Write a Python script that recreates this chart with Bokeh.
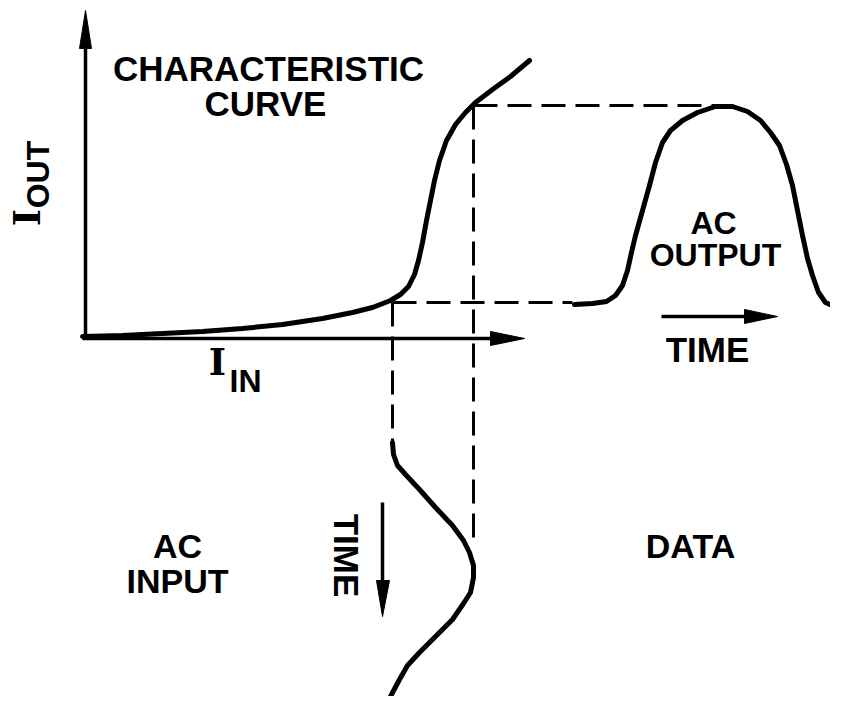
import math
from bokeh.plotting import figure
from bokeh.models import Range1d
from bokeh.core.properties import value
from bokeh.embed import file_html
from bokeh.resources import INLINE

# ---- diagram data (image pixel coordinates, y grows downward) ----
char_curve_x = [80, 120, 160, 200, 240, 280, 320, 350, 370, 388, 398, 406, 412, 416, 420, 424, 428,
                432, 437, 444, 453, 463, 473, 490, 508, 527]
char_curve_y = [334, 333, 331, 329, 326, 322, 316, 310, 305, 298, 292, 284, 272, 258, 240, 218, 198,
                178, 158, 138, 122, 110, 100, 87, 74, 58]

out_curve_x = [572, 590, 604, 613, 620, 625, 629, 633, 640, 647, 653, 660, 668, 680, 695, 713, 730,
               745, 758, 768, 777, 784, 790, 795, 800, 805, 810, 816, 823, 834, 846]
out_curve_y = [302, 301, 299, 293, 283, 268, 250, 233, 208, 183, 160, 140, 128, 118, 110, 104, 104,
               109, 118, 130, 143, 162, 183, 208, 233, 256, 273, 290, 300, 305, 308]

in_curve_x = [390, 391, 395, 403, 417, 433, 450, 461, 467, 471, 471, 468, 461, 450, 433, 417, 405,
              397, 389, 382]
in_curve_y = [440, 452, 463, 472, 487, 505, 523, 538, 550, 563, 575, 590, 601, 617, 634, 650, 663,
              677, 692, 707]

# dashed projection lines: (x0, y0, x1, y1)
dash_x0 = [390, 471, 390, 471]
dash_y0 = [300, 103, 300, 103]
dash_x1 = [570, 713, 390, 471]
dash_y1 = [300, 103, 440, 545]

# arrow shafts
shaft_x0 = [83, 80, 659, 380]
shaft_y0 = [336, 336, 314, 500]
shaft_x1 = [83, 495, 745, 380]
shaft_y1 = [40, 336, 314, 590]

# arrow heads (triangles)
head_xs = [[83, 77, 89], [522, 488, 488], [775, 742, 742], [380, 374, 387]]
head_ys = [[8, 46, 46], [336, 329, 343], [314, 307, 321], [614, 578, 578]]

# labels (centre positions)
lbl_text = ["CHARACTERISTIC", "CURVE", "AC", "OUTPUT", "TIME", "AC", "INPUT", "DATA"]
lbl_x = [266, 263, 711, 713, 705, 175, 175, 688]
lbl_y = [66, 101, 220, 252, 347, 543, 578, 543]
lbl_size = ["35px", "35px", "32px", "32px", "35px", "34px", "34px", "34px"]

W, H = 830, 696
OFF = -2
p = figure(width=W, height=H, output_backend="svg", toolbar_location=None,
           x_range=Range1d(OFF, OFF + W), y_range=Range1d(OFF + H, OFF),
           min_border=0, outline_line_color=None)
p.axis.visible = False
p.grid.visible = False
p.background_fill_color = "white"
p.border_fill_color = "white"

# dashed lines
p.segment(dash_x0, dash_y0, dash_x1, dash_y1, line_color="black", line_width=3,
          line_dash="24 10")

# axes and time arrows
p.segment(shaft_x0, shaft_y0, shaft_x1, shaft_y1, line_color="black", line_width=3.5)
p.patches(head_xs, head_ys, fill_color="black", line_color="black", line_width=1)

# curves
for xs, ys in [(char_curve_x, char_curve_y), (out_curve_x, out_curve_y), (in_curve_x, in_curve_y)]:
    p.line(xs, ys, line_color="black", line_width=5, line_join="round", line_cap="round")

font = value("Liberation Sans")
for t, x, y, s in zip(lbl_text, lbl_x, lbl_y, lbl_size):
    p.text([x], [y], text=[t], text_font=font, text_font_size=s, text_font_style="bold",
           text_align="center", text_baseline="middle", text_color="black")

# rotated TIME next to AC input
p.text([344], [553], text=["TIME"], text_font=font, text_font_size="35px", text_font_style="bold",
       text_align="center", text_baseline="middle", angle=-math.pi / 2, text_color="black")

# I_OUT (rotated)
p.text([24], [215], text=["I"], text_font=value("DejaVu Serif"), text_font_size="37px",
       text_font_style="bold", text_align="center", text_baseline="middle",
       angle=math.pi / 2, text_color="black")
p.text([35], [172], text=["OUT"], text_font=font, text_font_size="32px", text_font_style="bold",
       text_align="center", text_baseline="middle", angle=math.pi / 2, text_color="black")

# I_IN
p.text([215], [359], text=["I"], text_font=value("DejaVu Serif"), text_font_size="37px",
       text_font_style="bold", text_align="center", text_baseline="middle", text_color="black")
p.text([243], [378], text=["IN"], text_font=font, text_font_size="32px", text_font_style="bold",
       text_align="center", text_baseline="middle", text_color="black")

open("out.html", "w").write(file_html(p, INLINE))
